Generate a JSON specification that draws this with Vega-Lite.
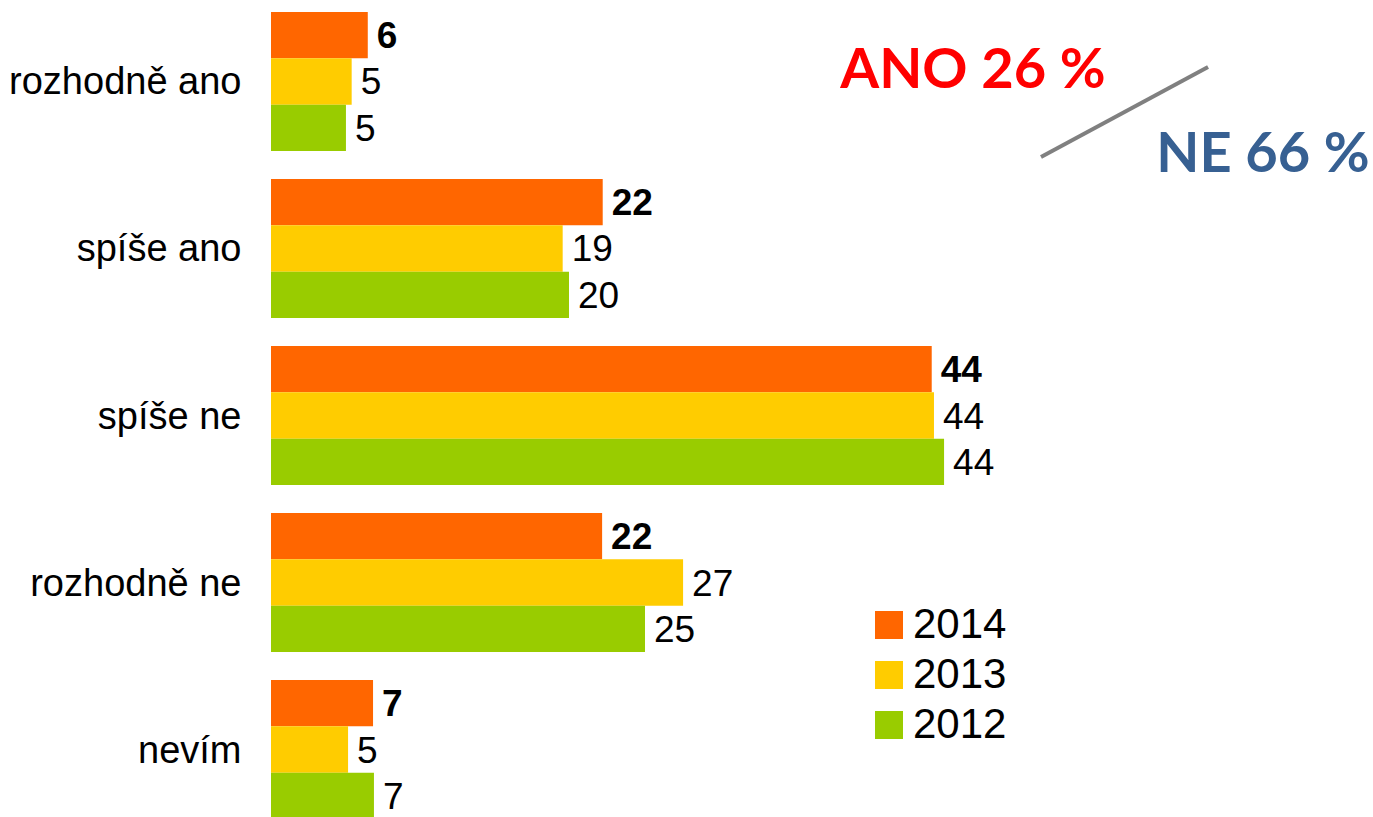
{
  "$schema": "https://vega.github.io/schema/vega-lite/v6.json",
  "width": 1102,
  "height": 817,
  "autosize": {"type": "none"},
  "padding": {"left": 271, "top": 0, "right": 0, "bottom": 0},
  "background": "white",
  "config": {"view": {"stroke": null}, "font": "Liberation Sans"},
  "datasets": {
    "bars": [
      {"cat": "rozhodně ano", "year": "2014", "value": 6.43, "label": "6"},
      {"cat": "rozhodně ano", "year": "2013", "value": 5.36, "label": "5"},
      {"cat": "rozhodně ano", "year": "2012", "value": 4.98, "label": "5"},
      {"cat": "spíše ano", "year": "2014", "value": 22.04, "label": "22"},
      {"cat": "spíše ano", "year": "2013", "value": 19.38, "label": "19"},
      {"cat": "spíše ano", "year": "2012", "value": 19.8, "label": "20"},
      {"cat": "spíše ne", "year": "2014", "value": 43.9, "label": "44"},
      {"cat": "spíše ne", "year": "2013", "value": 44.05, "label": "44"},
      {"cat": "spíše ne", "year": "2012", "value": 44.72, "label": "44"},
      {"cat": "rozhodně ne", "year": "2014", "value": 22.0, "label": "22"},
      {"cat": "rozhodně ne", "year": "2013", "value": 27.38, "label": "27"},
      {"cat": "rozhodně ne", "year": "2012", "value": 24.85, "label": "25"},
      {"cat": "nevím", "year": "2014", "value": 6.78, "label": "7"},
      {"cat": "nevím", "year": "2013", "value": 5.12, "label": "5"},
      {"cat": "nevím", "year": "2012", "value": 6.84, "label": "7"}
    ],
    "notes": [
      {"text": "ANO 26 %", "x": 46.64, "y": 10.77, "color": "ANO"},
      {"text": "NE 66 %", "x": 65.91, "y": 21.05, "color": "NE"}
    ],
    "slash": [
      {"x": 51.16, "y": 19.22},
      {"x": 62.26, "y": 8.2}
    ]
  },
  "layer": [
    {
      "data": {"name": "bars"},
      "layer": [
        {
          "mark": {"type": "bar"},
          "encoding": {
            "color": {
              "field": "year", "type": "nominal",
              "scale": {"domain": ["2014", "2013", "2012"], "range": ["#FF6600", "#FFCC00", "#99CC00"]},
              "legend": {
                "title": null, "orient": "none", "legendX": 597, "legendY": 604,
                "symbolType": "square", "symbolSize": 784, "symbolStrokeWidth": 0,
                "labelFont": "Liberation Sans", "labelFontSize": 42, "labelColor": "black",
                "labelOffset": 3, "rowPadding": 8, "padding": 0
              }
            }
          }
        },
        {
          "transform": [{"filter": "datum.year === '2014'"}],
          "mark": {"type": "text", "align": "left", "baseline": "middle", "dx": 9, "dy": 2, "font": "Liberation Sans", "fontSize": 37, "fontWeight": "bold", "color": "black"},
          "encoding": {"text": {"field": "label"}}
        },
        {
          "transform": [{"filter": "datum.year !== '2014'"}],
          "mark": {"type": "text", "align": "left", "baseline": "middle", "dx": 9, "dy": 2, "font": "Liberation Sans", "fontSize": 37, "color": "black"},
          "encoding": {"text": {"field": "label"}}
        }
      ],
      "encoding": {
        "y": {
          "field": "cat", "type": "nominal",
          "sort": ["rozhodně ano", "spíše ano", "spíše ne", "rozhodně ne", "nevím"],
          "scale": {"range": [0, 831], "paddingInner": 0.168, "paddingOuter": 0.072},
          "axis": {"title": null, "domain": false, "ticks": false, "labelFontSize": 38, "labelFont": "Liberation Sans", "labelColor": "black", "labelPadding": 30, "labelLimit": 0, "labelOffset": 2}
        },
        "yOffset": {
          "field": "year", "type": "nominal",
          "sort": ["2014", "2013", "2012"],
          "scale": {"paddingInner": 0, "paddingOuter": 0}
        },
        "x": {
          "field": "value", "type": "quantitative",
          "scale": {"domain": [0, 73.22], "nice": false, "zero": true},
          "axis": null
        }
      }
    },
    {
      "data": {"name": "slash"},
      "mark": {"type": "line", "color": "#808080", "strokeWidth": 4},
      "encoding": {
        "x": {"field": "x", "type": "quantitative", "scale": {"domain": [0, 73.22], "nice": false}, "axis": null},
        "y": {"field": "y", "type": "quantitative", "scale": {"domain": [0, 100], "reverse": true, "nice": false, "zero": false}, "axis": null},
        "order": {"field": "x"}
      }
    },
    {
      "data": {"name": "notes"},
      "mark": {"type": "text", "align": "center", "baseline": "alphabetic", "font": "Lato", "fontSize": 56, "fontWeight": "bold"},
      "encoding": {
        "x": {"field": "x", "type": "quantitative", "axis": null},
        "y": {"field": "y", "type": "quantitative", "scale": {"domain": [0, 100], "reverse": true, "nice": false, "zero": false}, "axis": null},
        "text": {"field": "text"},
        "color": {"field": "color", "type": "nominal", "scale": {"domain": ["ANO", "NE"], "range": ["#FF0000", "#376092"]}, "legend": null}
      }
    }
  ],
  "resolve": {"scale": {"y": "independent", "color": "independent"}}
}
